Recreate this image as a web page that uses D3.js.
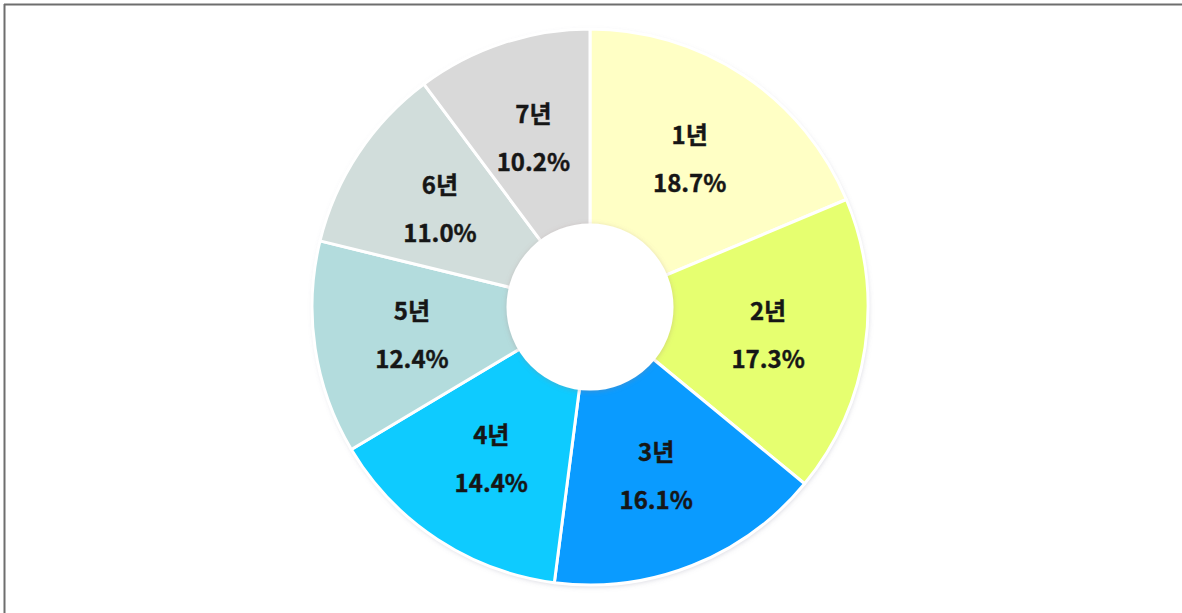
<!DOCTYPE html>
<html><head><meta charset="utf-8">
<script src="https://cdn.jsdelivr.net/npm/d3@7"></script>
<style>html,body{margin:0;padding:0;background:#fff;overflow:hidden}</style>
</head><body>
<svg id="chart" width="1182" height="613"></svg>
<script>
const categories = ["1년","2년","3년","4년","5년","6년","7년"];
const values = [18.7, 17.3, 16.1, 14.4, 12.4, 11.0, 10.2];
const colors = ["#FFFFC5","#E6FF70","#0A9BFF","#0ECBFF","#B3DCDD","#D1DDDB","#D9D9D9"];

const svg = d3.select("#chart");
const W = 1182, H = 613;
const cx = 590, cy = 307, outerR = 278, innerR = 82;

// frame lines (top and left)
svg.append("line").attr("x1",4).attr("x2",W).attr("y1",4.5).attr("y2",4.5).attr("stroke","#6e6e6e").attr("stroke-width",2);
svg.append("line").attr("x1",4.5).attr("x2",4.5).attr("y1",4).attr("y2",H).attr("stroke","#6e6e6e").attr("stroke-width",2);

const defs = svg.append("defs");
const f = defs.append("filter").attr("id","shadow").attr("x","-20%").attr("y","-20%").attr("width","140%").attr("height","140%");
f.append("feDropShadow").attr("dx",1).attr("dy",2).attr("stdDeviation",2.5).attr("flood-color","#9090a8").attr("flood-opacity",0.35);
const f2 = defs.append("filter").attr("id","innerShadow").attr("x","-20%").attr("y","-20%").attr("width","140%").attr("height","140%");
f2.append("feDropShadow").attr("dx",0).attr("dy",1).attr("stdDeviation",2.5).attr("flood-color","#a08080").attr("flood-opacity",0.35);

const g = svg.append("g").attr("transform",`translate(${cx},${cy})`);

// outer glow ring
g.append("circle").attr("r",outerR).attr("fill","#fff").attr("filter","url(#shadow)");

const pie = d3.pie().value(d => d).sort(null);
const arcs = pie(values);
const arc = d3.arc().innerRadius(0).outerRadius(outerR);

g.selectAll("path.slice").data(arcs).join("path")
  .attr("class","slice")
  .attr("d",arc)
  .attr("fill",(d,i) => colors[i])
  .attr("stroke","#fff")
  .attr("stroke-width",3)
  .attr("stroke-linejoin","round");

// inner hole
g.append("circle").attr("r",innerR).attr("fill","#fff").attr("stroke","#fff").attr("stroke-width",3).attr("filter","url(#innerShadow)");

const labelArc = d3.arc().innerRadius(180).outerRadius(180);
const font = "'Noto Sans CJK KR','Noto Sans',sans-serif";
const lg = g.selectAll("g.lab").data(arcs).join("g").attr("class","lab")
  .attr("transform", d => `translate(${labelArc.centroid(d)})`);
lg.append("text").attr("y",-24).attr("text-anchor","middle").attr("dominant-baseline","central")
  .attr("font-family",font).attr("font-weight","bold").attr("font-size",24).attr("fill","#161616")
  .attr("stroke","#161616").attr("stroke-width",0.4)
  .text((d,i) => categories[i]);
lg.append("text").attr("y",24).attr("text-anchor","middle").attr("dominant-baseline","central")
  .attr("font-family",font).attr("font-weight","bold").attr("font-size",24).attr("fill","#161616")
  .attr("stroke","#161616").attr("stroke-width",0.4)
  .text((d,i) => values[i].toFixed(1) + "%");
</script>
</body></html>
